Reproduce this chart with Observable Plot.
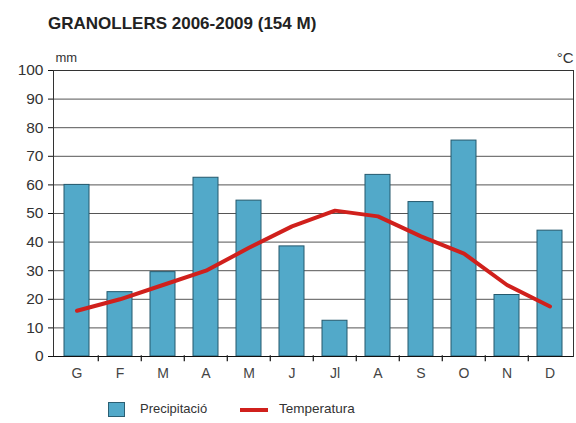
<!DOCTYPE html>
<html>
<head>
<meta charset="utf-8">
<script src="https://cdn.jsdelivr.net/npm/d3@7"></script>
<script src="https://cdn.jsdelivr.net/npm/@observablehq/plot@0.6"></script>
<style>
  html, body { margin: 0; padding: 0; background: #fff; }
  body { width: 576px; height: 423px; position: relative; overflow: hidden; font-family: "Liberation Sans", Arial, Helvetica, sans-serif; }
  #title { position: absolute; left: 48px; top: 14px; font-size: 17px; font-weight: bold; color: #222; white-space: nowrap; }
  #chart { position: absolute; left: 0; top: 40px; }
  #legend { position: absolute; left: 0; top: 400px; width: 576px; height: 20px; font-size: 13px; color: #333; }
  .sw { position: absolute; }
  .lbl { position: absolute; top: 1px; white-space: nowrap; }
</style>
</head>
<body>
<div id="title">GRANOLLERS 2006-2009 (154 M)</div>
<div id="chart"></div>
<div id="legend">
  <div class="sw" style="left:108px; top:2px; width:17px; height:15px; background:#52a9c9; border:1px solid #2b5f73; box-sizing:border-box;"></div>
  <div class="lbl" style="left:140px;">Precipitació</div>
  <div class="sw" style="left:240px; top:8px; width:28px; height:4px; background:#d0201c;"></div>
  <div class="lbl" style="left:279px; font-size:13.5px;">Temperatura</div>
</div>
<script>
const monthLabels = ["G","F","M","A","M","J","Jl","A","S","O","N","D"];
const precipitation = [60, 22.5, 29.5, 62.5, 54.5, 38.5, 12.5, 63.5, 54, 75.5, 21.5, 44];
const temperature = [16, 20, 25, 30, 38, 45.5, 51, 49, 42, 36, 25, 17.5];
const yTicks = [0,10,20,30,40,50,60,70,80,90,100];

const idx = monthLabels.map((_, i) => i);
const rows = idx.map(i => ({i, p: precipitation[i], t: temperature[i]}));

const mL = 53, mR = 3, W = 576;
const pIn = 0.42, pOut = 0.2;
const step = (W - mL - mR) / (idx.length - pIn + 2 * pOut);

const chart = Plot.plot({
  width: 576,
  height: 350,
  marginLeft: mL,
  marginRight: mR,
  marginTop: 30,
  marginBottom: 34,
  style: {fontFamily: "Liberation Sans, Arial, sans-serif", background: "transparent"},
  x: {type: "band", domain: idx, paddingInner: pIn, paddingOuter: pOut, axis: null},
  y: {domain: [0, 100], axis: null},
  marks: [
    Plot.ruleY(yTicks.slice(1), {stroke: "#555", strokeWidth: 1}),
    Plot.barY(rows, {x: "i", y: "p", fill: "#52a9c9", stroke: "#24596d", strokeWidth: 1}),
    Plot.line(rows, {x: "i", y: "t", stroke: "#d0201c", strokeWidth: 4, strokeLinejoin: "round", strokeLinecap: "round"}),
    Plot.frame({stroke: "#333", strokeWidth: 1}),
    Plot.ruleY([0], {stroke: "#111", strokeWidth: 1.2}),
    Plot.ruleX(idx.slice(1), {x: d => d, dx: -step / 2, y1: 0.3, y2: -1.8, stroke: "#222", strokeWidth: 1.3}),
    Plot.axisY({ticks: yTicks, tickSize: 5, tickPadding: 5, fontSize: 15.5, color: "#333", stroke: "#111", label: null}),
    Plot.axisX({tickSize: 0, tickPadding: 12, fontSize: 14, color: "#444", tickFormat: i => monthLabels[i], label: null}),
    Plot.text(["mm"], {frameAnchor: "top-left", dx: 2, dy: -18, text: d => d, textAnchor: "start", fontSize: 13, fill: "#333"}),
    Plot.text(["°C"], {frameAnchor: "top-right", dx: 0, dy: -18, text: d => d, textAnchor: "end", fontSize: 15, fill: "#333"})
  ]
});
document.getElementById("chart").appendChild(chart);
</script>
</body>
</html>
